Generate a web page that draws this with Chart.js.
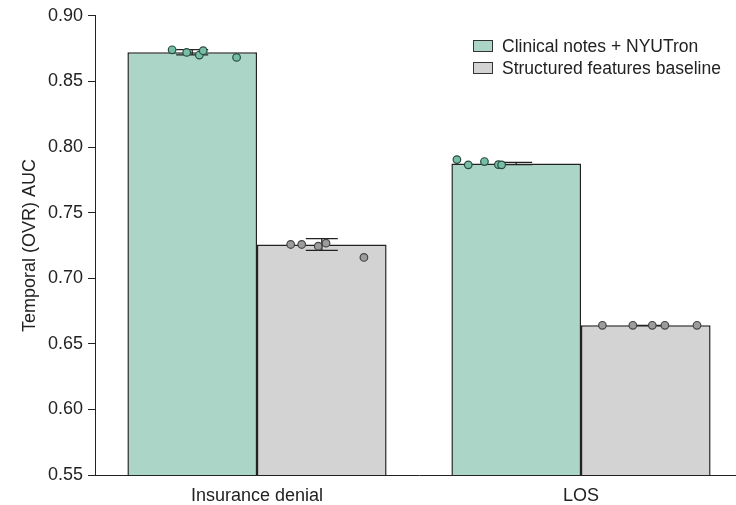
<!DOCTYPE html>
<html>
<head>
<meta charset="utf-8">
<script src="https://cdn.jsdelivr.net/npm/chart.js@4"></script>
<style>
  body { margin: 0; overflow: hidden; background: #fff; }
  #wrap { position: relative; width: 745px; height: 505px; }
  #legend { position: absolute; left: 473px; top: 35px; font: 17.5px "Liberation Sans", Arial, sans-serif; color: #222; }
  #legend div { display: flex; align-items: center; height: 22px; }
  #legend span.box { width: 18px; height: 10px; border: 1px solid #333; margin-right: 9px; }
</style>
</head>
<body>
<div id="wrap">
  <canvas id="aucChart"></canvas>
  <div id="legend"></div>
</div>
<script>
const categories = ['Insurance denial', 'LOS'];
const seriesLabels = ['Clinical notes + NYUTron', 'Structured features baseline'];

// mean AUC per task
const nyutronAuc = [0.8722, 0.7874];
const baselineAuc = [0.7257, 0.6641];
// error bar half-widths
const nyutronErr = [0.002, 0.0009];
const baselineErr = [0.0045, 0];

// individual runs (5 per task), with horizontal jitter in category units
const nyutronRuns = [[0.8741, 0.8721, 0.8701, 0.8734, 0.8683], [0.7904, 0.7864, 0.7889, 0.7866, 0.7864]];
const nyutronJitter = [[-0.262, -0.217, -0.178, -0.166, -0.063], [-0.383, -0.348, -0.298, -0.255, -0.245]];
const baselineRuns = [[0.7257, 0.7257, 0.7244, 0.7267, 0.7158], [0.6641, 0.6641, 0.6641, 0.6641, 0.6641]];
const baselineJitter = [[0.104, 0.138, 0.189, 0.213, 0.330], [0.066, 0.160, 0.220, 0.259, 0.358]];

const yTicks = [0.55, 0.60, 0.65, 0.70, 0.75, 0.80, 0.85, 0.90];

const barColors = ['#abd5c7', '#d3d3d3'];
const pointColors = ['#74bfa5', '#9c9c9c'];
const pointEdges = ['#2d4a40', '#444'];
const errs = [nyutronErr, baselineErr];
const runs = [nyutronRuns, baselineRuns];
const jitters = [nyutronJitter, baselineJitter];

// legend
const legend = document.getElementById('legend');
seriesLabels.forEach((lab, i) => {
  const row = document.createElement('div');
  row.innerHTML = '<span class="box" style="background:' + barColors[i] + '"></span>' + lab;
  legend.appendChild(row);
});

const errorBars = {
  id: 'errorBars',
  afterDatasetDraw(chart, args) {
    const i = args.index;
    const ctx = chart.ctx;
    const y = chart.scales.y;
    const meta = chart.getDatasetMeta(i);
    ctx.save();
    ctx.strokeStyle = '#222';
    ctx.lineWidth = 1.3;
    meta.data.forEach((bar, j) => {
      const v = chart.data.datasets[i].data[j];
      const e = errs[i][j];
      const yt = y.getPixelForValue(v + e), yb = y.getPixelForValue(v - e);
      const x = bar.x, hw = 16;
      ctx.beginPath();
      ctx.moveTo(x - hw, yt); ctx.lineTo(x + hw, yt);
      ctx.moveTo(x - hw, yb); ctx.lineTo(x + hw, yb);
      ctx.moveTo(x, yt); ctx.lineTo(x, yb);
      ctx.stroke();
    });
    ctx.restore();
  }
};

// strip of individual runs, placed with the hidden linear x scale
const runDots = {
  id: 'runDots',
  afterDatasetsDraw(chart) {
    const ctx = chart.ctx;
    const xs = chart.scales.xp, y = chart.scales.y;
    ctx.save();
    ctx.lineWidth = 1.2;
    runs.forEach((series, s) => {
      ctx.fillStyle = pointColors[s];
      ctx.strokeStyle = pointEdges[s];
      series.forEach((vals, i) => vals.forEach((v, k) => {
        ctx.beginPath();
        ctx.arc(xs.getPixelForValue(i + jitters[s][i][k]), y.getPixelForValue(v), 3.8, 0, Math.PI * 2);
        ctx.fill();
        ctx.stroke();
      }));
    });
    ctx.restore();
  }
};

Chart.defaults.font.family = '"Liberation Sans", Arial, sans-serif';
Chart.defaults.font.size = 18;
Chart.defaults.color = '#222';

new Chart(document.getElementById('aucChart'), {
  type: 'bar',
  data: {
    labels: categories,
    datasets: [
      { label: seriesLabels[0], data: nyutronAuc, backgroundColor: barColors[0], borderColor: '#222', borderWidth: 1.5, categoryPercentage: 0.8, barPercentage: 1.0 },
      { label: seriesLabels[1], data: baselineAuc, backgroundColor: barColors[1], borderColor: '#222', borderWidth: 1.5, categoryPercentage: 0.8, barPercentage: 1.0 }
    ]
  },
  options: {
    responsive: true,
    maintainAspectRatio: false,
    animation: false,
    layout: { padding: { top: 15, right: 2, bottom: 0, left: 0 } },
    plugins: { legend: { display: false }, tooltip: { enabled: false } },
    scales: {
      x: {
        type: 'category',
        offset: true,
        afterFit(scale) { scale.height = 30; },
        grid: { display: false, drawTicks: false },
        border: { display: true, color: '#222', width: 1 },
        ticks: { padding: 10, color: '#222' }
      },
      xp: { type: 'linear', display: false, offset: false, min: -0.5, max: 1.5 },
      y: {
        min: 0.55,
        max: 0.90,
        afterFit(scale) { scale.width = 95; },
        afterBuildTicks(scale) { scale.ticks = yTicks.map(v => ({ value: v })); },
        ticks: { padding: 5, color: '#222', callback: v => v.toFixed(2) },
        grid: { display: true, drawOnChartArea: false, drawTicks: true, tickLength: 7, color: '#222' },
        border: { display: true, color: '#222', width: 1 },
        title: { display: true, text: 'Temporal (OVR) AUC', color: '#222', padding: { top: 19, bottom: 0 }, font: { size: 18 } }
      }
    }
  },
  plugins: [errorBars, runDots]
});
</script>
</body>
</html>
